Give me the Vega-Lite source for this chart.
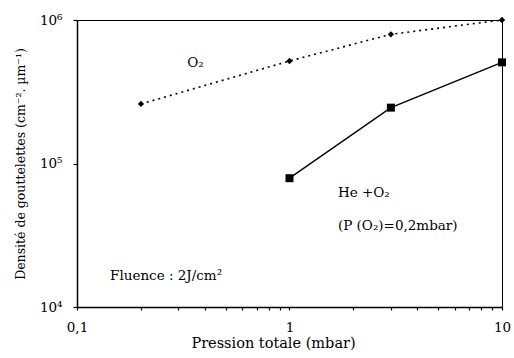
{
  "$schema": "https://vega.github.io/schema/vega-lite/v6.json",
  "width": 425,
  "height": 287,
  "autosize": "none",
  "padding": {"left": 77, "top": 20, "right": 12, "bottom": 51},
  "background": "white",
  "config": {
    "view": {"stroke": "black", "strokeWidth": 1},
    "font": "DejaVu Serif",
    "axis": {"grid": false, "domainColor": "black", "domainWidth": 1.5, "tickColor": "black", "tickWidth": 1.2, "labelColor": "black", "titleColor": "black", "labelFont": "DejaVu Serif", "titleFont": "DejaVu Serif", "labelFontSize": 13.5, "titleFontSize": 12.5, "titleFontWeight": "normal"}
  },
  "datasets": {
    "series": [
      {"p": 0.2, "d": 260000, "s": "O2"},
      {"p": 1, "d": 518000, "s": "O2"},
      {"p": 3, "d": 795000, "s": "O2"},
      {"p": 10, "d": 1000000, "s": "O2"},
      {"p": 1, "d": 79000, "s": "HeO2"},
      {"p": 3, "d": 245000, "s": "HeO2"},
      {"p": 10, "d": 507000, "s": "HeO2"}
    ],
    "labels": [
      {"p": 0.33, "d": 470000, "t": "O₂"},
      {"p": 1.69, "d": 58500, "t": "He +O₂"},
      {"p": 1.69, "d": 34400, "t": "(P (O₂)=0,2mbar)"},
      {"p": 0.143, "d": 15400, "t": "Fluence : 2J/cm²"}
    ]
  },
  "layer": [
    {
      "data": {"name": "series"},
      "transform": [{"filter": "datum.s === 'O2'"}],
      "mark": {"type": "line", "color": "black", "strokeWidth": 1.6, "strokeDash": [2, 4], "clip": false},
      "encoding": {
        "x": {"field": "p", "type": "quantitative", "scale": {"type": "log", "domain": [0.1, 10], "nice": false},
          "axis": {"title": "Pression totale (mbar)", "titleFontSize": 14.5, "titleX": 196, "values": [0.1, 0.2, 0.3, 0.4, 0.5, 0.6, 0.7, 0.8, 0.9, 1, 2, 3, 4, 5, 6, 7, 8, 9, 10],
            "labelExpr": "datum.value == 0.1 ? '0,1' : (datum.value == 1 ? '1' : (datum.value == 10 ? '10' : ''))",
            "tickSize": 3, "labelPadding": 10, "titlePadding": 3, "labelFlush": false, "labelOverlap": false}},
        "y": {"field": "d", "type": "quantitative", "scale": {"type": "log", "domain": [10000, 1000000], "nice": false},
          "axis": {"title": "Densité de gouttelettes (cm⁻². µm⁻¹)", "values": [10000, 100000, 1000000],
            "labelExpr": "datum.value == 10000 ? '10⁴' : (datum.value == 100000 ? '10⁵' : '10⁶')",
            "tickSize": 4, "labelPadding": 11, "titlePadding": 12, "labelFlush": false}}
      }
    },
    {
      "data": {"name": "series"},
      "transform": [{"filter": "datum.s === 'O2'"}],
      "mark": {"type": "point", "shape": "diamond", "filled": true, "color": "black", "size": 40, "opacity": 1, "clip": false},
      "encoding": {
        "x": {"field": "p", "type": "quantitative"},
        "y": {"field": "d", "type": "quantitative"}
      }
    },
    {
      "data": {"name": "series"},
      "transform": [{"filter": "datum.s === 'HeO2'"}],
      "mark": {"type": "line", "color": "black", "strokeWidth": 1.4, "clip": false},
      "encoding": {
        "x": {"field": "p", "type": "quantitative"},
        "y": {"field": "d", "type": "quantitative"}
      }
    },
    {
      "data": {"name": "series"},
      "transform": [{"filter": "datum.s === 'HeO2'"}],
      "mark": {"type": "square", "filled": true, "color": "black", "size": 64, "opacity": 1, "clip": false},
      "encoding": {
        "x": {"field": "p", "type": "quantitative"},
        "y": {"field": "d", "type": "quantitative"}
      }
    },
    {
      "data": {"name": "labels"},
      "mark": {"type": "text", "align": "left", "baseline": "alphabetic", "font": "DejaVu Serif", "fontSize": 13.5, "color": "black"},
      "encoding": {
        "x": {"field": "p", "type": "quantitative"},
        "y": {"field": "d", "type": "quantitative"},
        "text": {"field": "t"}
      }
    }
  ]
}
